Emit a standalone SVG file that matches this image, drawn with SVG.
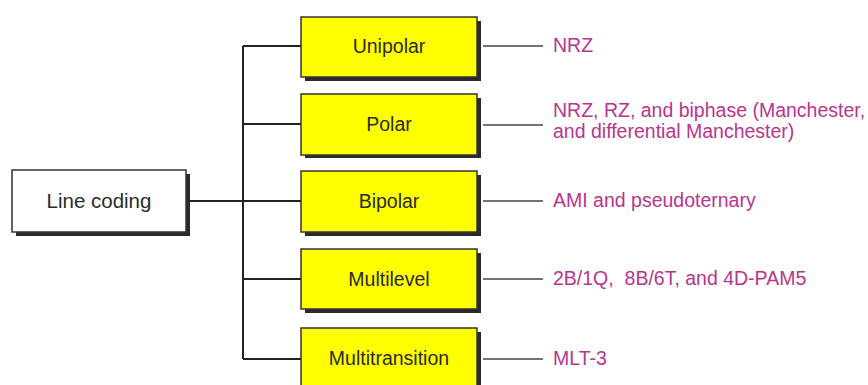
<svg xmlns="http://www.w3.org/2000/svg" width="868" height="385" viewBox="0 0 868 385">
<style>
.bg{fill:#ffffff}
.sh{fill:#2a2a2a}
.box{fill:#ffff00;stroke:#333333;stroke-width:1.5}
.wbox{fill:#ffffff;stroke:#333333;stroke-width:1.5}
.lbl{font-family:"Liberation Sans",Arial,sans-serif;font-size:19.5px;fill:#2b2b2b;text-anchor:middle}
.note{font-family:"Liberation Sans",Arial,sans-serif;font-size:19.5px;fill:#b83590}
.ln{stroke:#222222;stroke-width:2;fill:none}
.ln2{stroke:#444444;stroke-width:1.5;fill:none}
</style>
<rect class="bg" x="0" y="0" width="868" height="385"/>
<g id="connectors">
<line class="ln" x1="186" y1="201" x2="301" y2="201"/>
<line class="ln" x1="243" y1="46" x2="243" y2="359"/>
<line class="ln" x1="243" y1="46" x2="301" y2="46"/>
<line class="ln" x1="243" y1="124" x2="301" y2="124"/>
<line class="ln" x1="243" y1="279" x2="301" y2="279"/>
<line class="ln" x1="243" y1="359" x2="301" y2="359"/>
<line class="ln2" x1="483" y1="46" x2="543" y2="46"/>
<line class="ln2" x1="483" y1="125" x2="543" y2="125"/>
<line class="ln2" x1="483" y1="201" x2="543" y2="201"/>
<line class="ln2" x1="483" y1="279" x2="543" y2="279"/>
<line class="ln2" x1="483" y1="359" x2="543" y2="359"/>
</g>
<g id="line-coding">
<rect class="sh" x="16" y="174" width="174" height="62"/>
<rect class="wbox" x="12" y="170" width="174" height="62"/>
<text class="lbl" x="99" y="208" style="font-size:20.5px">Line coding</text>
</g>
<g id="unipolar">
<rect class="sh" x="305" y="21" width="176" height="60"/>
<rect class="box" x="301" y="17" width="176" height="60"/>
<text class="lbl" x="389" y="53">Unipolar</text>
</g>
<g id="polar">
<rect class="sh" x="305" y="98" width="176" height="60"/>
<rect class="box" x="301" y="94" width="176" height="61"/>
<text class="lbl" x="389" y="131">Polar</text>
</g>
<g id="bipolar">
<rect class="sh" x="305" y="175" width="176" height="61"/>
<rect class="box" x="301" y="171" width="176" height="61"/>
<text class="lbl" x="389" y="208">Bipolar</text>
</g>
<g id="multilevel">
<rect class="sh" x="305" y="253" width="176" height="60"/>
<rect class="box" x="301" y="249" width="176" height="60"/>
<text class="lbl" x="389" y="286">Multilevel</text>
</g>
<g id="multitransition">
<rect class="sh" x="305" y="332" width="176" height="60"/>
<rect class="box" x="301" y="328" width="176" height="60"/>
<text class="lbl" x="389" y="365">Multitransition</text>
</g>
<g id="notes">
<text class="note" x="553" y="52">NRZ</text>
<text class="note" x="553" y="117">NRZ, RZ, and biphase (Manchester,</text>
<text class="note" x="553" y="138">and differential Manchester)</text>
<text class="note" x="553" y="207">AMI and pseudoternary</text>
<text class="note" x="553" y="285" xml:space="preserve">2B/1Q,  8B/6T, and 4D-PAM5</text>
<text class="note" x="553" y="365">MLT-3</text>
</g>
</svg>
